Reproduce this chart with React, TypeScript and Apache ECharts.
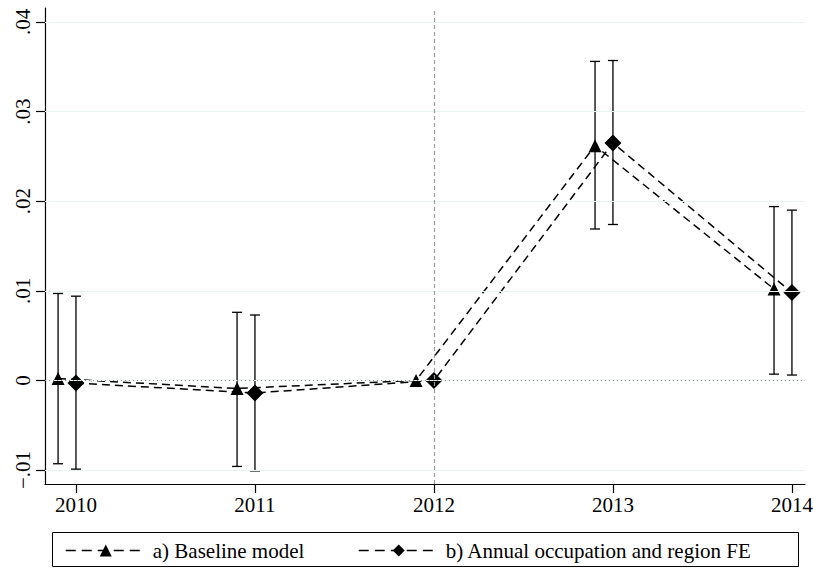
import React, { useEffect, useRef } from "react";
import * as echarts from "echarts";

const years = [2010, 2011, 2012, 2013, 2014];
const baseline = [0.0002, -0.0009, 0, 0.0262, 0.0102];
const baselineLo = [-0.0093, -0.0096, null, 0.0169, 0.0007];
const baselineHi = [0.0097, 0.0076, null, 0.0356, 0.0194];
const annual = [-0.0003, -0.0014, 0, 0.0265, 0.0098];
const annualLo = [-0.0099, -0.0101, null, 0.0174, 0.0006];
const annualHi = [0.0094, 0.0073, null, 0.0357, 0.0190];
const yTicks = [-0.01, 0, 0.01, 0.02, 0.03, 0.04];
const refYear = 2012;
const seriesNames = ["a) Baseline model", "b) Annual occupation and region FE"];

const BASELINE_OFFSET = -0.1;
const FONT = "Liberation Serif";

function fmtY(v: number) {
  if (Math.abs(v) < 1e-12) return "0";
  const s = v.toFixed(2);
  return s.replace(/^(-?)0\./, "$1.").replace("-", "\u2212");
}

export default function App() {
  const ref = useRef<HTMLDivElement>(null);
  useEffect(() => {
    document.body.style.margin = "0";
    const chart = echarts.init(ref.current!, null, { renderer: "svg" });
    const bx = years.map((y) => y + BASELINE_OFFSET);
    const baseData = bx.map((x, i) => [x, baseline[i]]);
    const annData = years.map((x, i) => [x, annual[i]]);
    const baseErr = bx
      .map((x, i) => [x, baselineLo[i], baselineHi[i]])
      .filter((d) => d[1] !== null);
    const annErr = years
      .map((x, i) => [x, annualLo[i], annualHi[i]])
      .filter((d) => d[1] !== null);

    const errRender = (params: any, api: any) => {
      const x = api.value(0);
      const lo = api.coord([x, api.value(1)]);
      const hi = api.coord([x, api.value(2)]);
      const cw = 5;
      const st = { stroke: "#000", lineWidth: 1.3 };
      return {
        type: "group",
        children: [
          { type: "line", shape: { x1: lo[0], y1: lo[1], x2: hi[0], y2: hi[1] }, style: st },
          { type: "line", shape: { x1: lo[0] - cw, y1: lo[1], x2: lo[0] + cw, y2: lo[1] }, style: st },
          { type: "line", shape: { x1: hi[0] - cw, y1: hi[1], x2: hi[0] + cw, y2: hi[1] }, style: st },
        ],
      };
    };

    const legendCommon = {
      top: 535,
      itemWidth: 80,
      itemHeight: 15,
      lineStyle: { type: [10, 6], width: 1.5, color: "#000" },
      textStyle: { color: "#000", fontSize: 21, fontFamily: FONT, padding: [0, 0, 0, 2] },
    };

    const option: any = {
      animation: false,
      textStyle: { fontFamily: FONT },
      grid: { left: 45, right: 8, top: 8, bottom: 85, containLabel: false, outerBoundsMode: "none" },
      xAxis: {
        type: "value",
        min: 2009.827,
        max: 2014.073,
        axisLine: { show: true, onZero: false, lineStyle: { color: "#000", width: 1.2 } },
        axisTick: { show: true, length: 9, customValues: years, lineStyle: { color: "#000", width: 1.2 } },
        axisLabel: {
          customValues: years,
          color: "#000",
          fontSize: 21,
          fontFamily: FONT,
          margin: 10,
          formatter: (v: number) => String(Math.round(v)),
        },
        splitLine: { show: false },
      },
      yAxis: {
        type: "value",
        min: -0.01156,
        max: 0.04156,
        axisLine: { show: true, onZero: false, lineStyle: { color: "#000", width: 1.2 } },
        axisTick: { show: true, length: 9, customValues: yTicks, lineStyle: { color: "#000", width: 1.2 } },
        axisLabel: {
          customValues: yTicks,
          color: "#000",
          fontSize: 21,
          fontFamily: FONT,
          rotate: 90,
          margin: 12,
          formatter: (v: number) => fmtY(v),
        },
        splitLine: { show: false },
      },
      legend: [
        { ...legendCommon, data: [seriesNames[0]], left: 60 },
        { ...legendCommon, data: [seriesNames[1]], left: 353 },
      ],
      graphic: [
        {
          type: "rect",
          shape: { x: 52.5, y: 532.5, width: 746, height: 34 },
          style: { fill: "none", stroke: "#000", lineWidth: 1 },
          silent: true,
        },
      ],
      series: [
        {
          type: "line",
          name: "grid",
          data: [],
          silent: true,
          markLine: {
            silent: true,
            symbol: "none",
            label: { show: false },
            lineStyle: { color: "#eaf2f3", width: 1.2, type: "solid" },
            data: yTicks.map((v) => ({ yAxis: v })),
          },
        },
        {
          type: "line",
          name: "ref",
          data: [],
          silent: true,
          markLine: {
            silent: true,
            symbol: "none",
            label: { show: false },
            data: [
              { yAxis: 0, lineStyle: { color: "#8c8c8c", width: 1, type: [1, 3] } },
              { xAxis: refYear, lineStyle: { color: "#9a9a9a", width: 1.2, type: [4, 3] } },
            ],
          },
        },
        {
          type: "custom",
          name: "errBase",
          renderItem: errRender,
          data: baseErr,
          encode: { x: 0, y: [1, 2] },
          z: 3,
        },
        {
          type: "custom",
          name: "errAnn",
          renderItem: errRender,
          data: annErr,
          encode: { x: 0, y: [1, 2] },
          z: 3,
        },
        {
          type: "line",
          name: seriesNames[0],
          data: baseData,
          symbol: "triangle",
          symbolSize: 13,
          itemStyle: { color: "#000" },
          lineStyle: { color: "#000", width: 1.5, type: [8, 5] },
          z: 4,
        },
        {
          type: "line",
          name: seriesNames[1],
          data: annData,
          symbol: "diamond",
          symbolSize: 17,
          itemStyle: { color: "#000" },
          lineStyle: { color: "#000", width: 1.5, type: [8, 5] },
          z: 4,
        },
      ],
    };
    chart.setOption(option);
    return () => chart.dispose();
  }, []);
  return <div ref={ref} style={{ width: 813, height: 569 }} />;
}
